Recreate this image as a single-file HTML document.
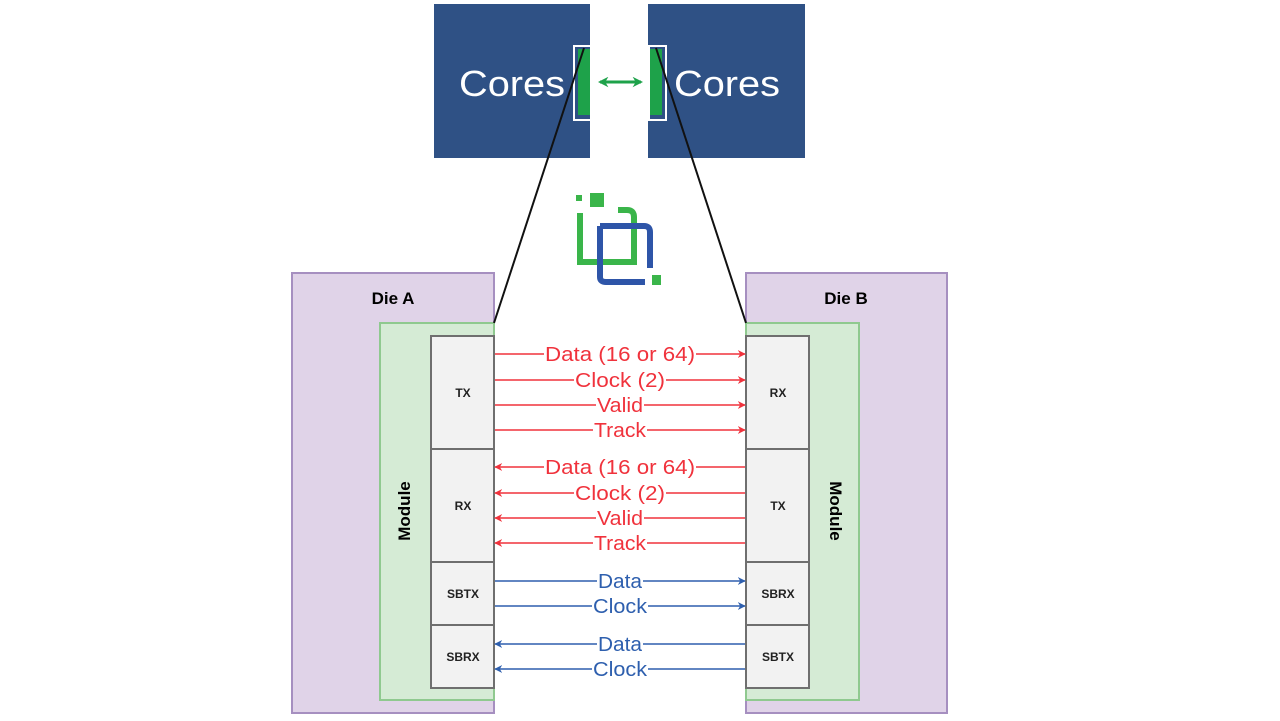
<!DOCTYPE html>
<html><head><meta charset="utf-8"><style>
html,body{margin:0;padding:0;background:#fff;}
svg{display:block;}
text{font-family:"Liberation Sans",Arial,sans-serif;}
</style></head><body>
<svg width="1280" height="721" viewBox="0 0 1280 721" xmlns="http://www.w3.org/2000/svg">
<defs>
<marker id="ar" viewBox="0 0 10 10" refX="9" refY="5" markerWidth="5" markerHeight="5" orient="auto-start-reverse"><path d="M0,0 L10,5 L0,10 L3,5z" fill="#f0323c"/></marker>
<marker id="ab" viewBox="0 0 10 10" refX="9" refY="5" markerWidth="5" markerHeight="5" orient="auto-start-reverse"><path d="M0,0 L10,5 L0,10 L3,5z" fill="#2e5fae"/></marker>
<marker id="ag" viewBox="0 0 10 10" refX="8" refY="5" markerWidth="3.5" markerHeight="3.5" orient="auto-start-reverse"><path d="M0,0 L10,5 L0,10 L3,5z" fill="#1ea24a"/></marker>
</defs>
<rect x="434" y="4" width="156" height="154" fill="#2f5185"/>
<rect x="648" y="4" width="157" height="154" fill="#2f5185"/>
<text x="459" y="96" font-size="36" fill="#fff" textLength="106" lengthAdjust="spacingAndGlyphs">Cores</text>
<text x="674" y="96" font-size="36" fill="#fff" textLength="106" lengthAdjust="spacingAndGlyphs">Cores</text>
<rect x="574" y="46" width="17" height="74" fill="#2f5185" stroke="#fff" stroke-width="2"/>
<rect x="578" y="49" width="12" height="66" fill="#1ea24a"/>
<rect x="649" y="46" width="17" height="74" fill="#2f5185" stroke="#fff" stroke-width="2"/>
<rect x="650" y="49" width="12" height="66" fill="#1ea24a"/>
<line x1="600" y1="82" x2="641" y2="82" stroke="#1ea24a" stroke-width="3" marker-start="url(#ag)" marker-end="url(#ag)"/>
<rect x="576" y="195" width="6" height="6" fill="#3ab54a"/>
<rect x="590" y="193" width="14" height="14" fill="#3ab54a"/>
<path d="M580,213 V262 H634 V217 Q634,210 627,210 H618" fill="none" stroke="#3ab54a" stroke-width="6"/>
<path d="M600,226 H644 Q650,226 650,232 V268 M600,226 V277 Q600,282 606,282 H645" fill="none" stroke="#2e55a8" stroke-width="6"/>
<rect x="652" y="275" width="9" height="10" fill="#3ab54a"/>
<rect x="292" y="273" width="202" height="440" fill="#e0d3e8" stroke="#a68fc0" stroke-width="2"/>
<rect x="746" y="273" width="201" height="440" fill="#e0d3e8" stroke="#a68fc0" stroke-width="2"/>
<text x="393" y="304" font-size="17" font-weight="bold" text-anchor="middle">Die A</text>
<text x="846" y="304" font-size="17" font-weight="bold" text-anchor="middle">Die B</text>
<rect x="380" y="323" width="114" height="377" fill="#d5ebd5" stroke="#8fc98f" stroke-width="2"/>
<rect x="746" y="323" width="113" height="377" fill="#d5ebd5" stroke="#8fc98f" stroke-width="2"/>
<text transform="translate(410,511) rotate(-90)" font-size="17" font-weight="bold" text-anchor="middle">Module</text>
<text transform="translate(830,511) rotate(90)" font-size="17" font-weight="bold" text-anchor="middle">Module</text>
<g fill="#f2f2f2" stroke="#6f6f6f" stroke-width="2">
<rect x="431" y="336" width="63" height="113"/><rect x="431" y="449" width="63" height="113"/>
<rect x="431" y="562" width="63" height="63"/><rect x="431" y="625" width="63" height="63"/>
<rect x="746" y="336" width="63" height="113"/><rect x="746" y="449" width="63" height="113"/>
<rect x="746" y="562" width="63" height="63"/><rect x="746" y="625" width="63" height="63"/>
</g>
<g font-size="12" font-weight="bold" text-anchor="middle" fill="#222">
<text x="463" y="397">TX</text><text x="463" y="510">RX</text><text x="463" y="598">SBTX</text><text x="463" y="661">SBRX</text>
<text x="778" y="397">RX</text><text x="778" y="510">TX</text><text x="778" y="598">SBRX</text><text x="778" y="661">SBTX</text>
</g>
<line x1="584" y1="48" x2="494" y2="323" stroke="#111" stroke-width="2"/>
<line x1="656" y1="48" x2="746" y2="323" stroke="#111" stroke-width="2"/>
<g stroke-width="1.6" fill="none">
<g stroke="#f0323c" marker-end="url(#ar)">
<line x1="495" y1="354" x2="745" y2="354"/><line x1="495" y1="380" x2="745" y2="380"/><line x1="495" y1="405" x2="745" y2="405"/><line x1="495" y1="430" x2="745" y2="430"/>
<line x1="745" y1="467" x2="495" y2="467"/><line x1="745" y1="493" x2="495" y2="493"/><line x1="745" y1="518" x2="495" y2="518"/><line x1="745" y1="543" x2="495" y2="543"/>
</g>
<g stroke="#2e5fae" marker-end="url(#ab)">
<line x1="495" y1="581" x2="745" y2="581"/><line x1="495" y1="606" x2="745" y2="606"/>
<line x1="745" y1="644" x2="495" y2="644"/><line x1="745" y1="669" x2="495" y2="669"/>
</g>
</g>
<g font-size="20" lengthAdjust="spacingAndGlyphs">
<g fill="#f0323c">
<rect x="544" y="344" width="152" height="20" fill="#fff"/><text x="545" y="361" textLength="150" lengthAdjust="spacingAndGlyphs">Data (16 or 64)</text>
<rect x="574" y="370" width="92" height="20" fill="#fff"/><text x="575" y="387" textLength="90" lengthAdjust="spacingAndGlyphs">Clock (2)</text>
<rect x="596" y="395" width="48" height="20" fill="#fff"/><text x="597" y="412" textLength="46" lengthAdjust="spacingAndGlyphs">Valid</text>
<rect x="593" y="420" width="54" height="20" fill="#fff"/><text x="594" y="437" textLength="52" lengthAdjust="spacingAndGlyphs">Track</text>
<rect x="544" y="457" width="152" height="20" fill="#fff"/><text x="545" y="474" textLength="150" lengthAdjust="spacingAndGlyphs">Data (16 or 64)</text>
<rect x="574" y="483" width="92" height="20" fill="#fff"/><text x="575" y="500" textLength="90" lengthAdjust="spacingAndGlyphs">Clock (2)</text>
<rect x="596" y="508" width="48" height="20" fill="#fff"/><text x="597" y="525" textLength="46" lengthAdjust="spacingAndGlyphs">Valid</text>
<rect x="593" y="533" width="54" height="20" fill="#fff"/><text x="594" y="550" textLength="52" lengthAdjust="spacingAndGlyphs">Track</text>
</g>
<g fill="#2e5fae">
<rect x="597" y="571" width="46" height="20" fill="#fff"/><text x="598" y="588" textLength="44" lengthAdjust="spacingAndGlyphs">Data</text>
<rect x="592" y="596" width="56" height="20" fill="#fff"/><text x="593" y="613" textLength="54" lengthAdjust="spacingAndGlyphs">Clock</text>
<rect x="597" y="634" width="46" height="20" fill="#fff"/><text x="598" y="651" textLength="44" lengthAdjust="spacingAndGlyphs">Data</text>
<rect x="592" y="659" width="56" height="20" fill="#fff"/><text x="593" y="676" textLength="54" lengthAdjust="spacingAndGlyphs">Clock</text>
</g>
</g>
</svg>
</body></html>
